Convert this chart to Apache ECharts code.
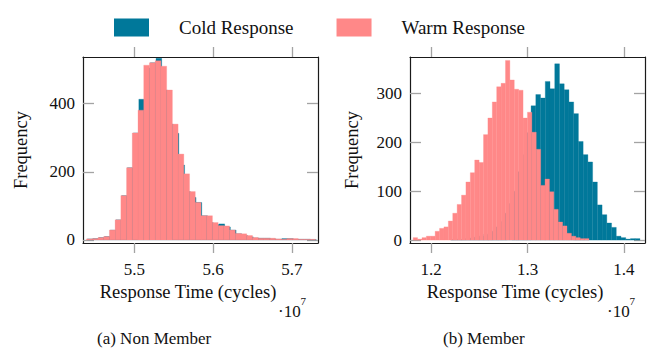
<!DOCTYPE html>
<html>
<head>
<meta charset="utf-8">
<script src="https://cdn.jsdelivr.net/npm/echarts@6/dist/echarts.min.js"></script>
<style>
  html, body { margin: 0; padding: 0; background: #fff; }
  #chart { width: 649px; height: 348px; }
</style>
</head>
<body>
<div id="chart"></div>
<script>
// histogram bins (x in units of 1e7 cycles)
const nonMemberBinStart = 5.4395;
const nonMemberBinWidth = 0.007255;
const nonMemberColdShift = 0.001;
const nonMemberWarm = [3, 4, 7, 10, 29, 59, 130, 212, 314, 381,
  513, 520, 526, 510, 440, 340, 252, 194, 142, 110,
  71, 71, 51, 42, 41, 29, 19, 18, 13, 7,
  5, 5, 5, 3, 2, 4, 4, 2, 2, 2];
const nonMemberCold = [3, 4, 7, 10, 29, 59, 130, 212, 314, 413,
  505, 520, 533, 440, 340, 313, 220, 142, 125, 110,
  71, 51, 45, 47, 38, 29, 18, 13, 9, 6,
  5, 5, 3, 2, 4, 4, 2, 2, 2, 1];

const memberWarmStart = 1.1813;
const memberWarmWidth = 0.00456;
const memberWarm = [5, 2, 5, 8, 8, 18, 24, 27, 39, 55,
  73, 92, 119, 138, 164, 159, 216, 250, 283, 314,
  321, 368, 328, 309, 307, 250, 262, 221, 186, 112,
  125, 99, 63, 37, 29, 14, 8, 5, 3, 3];
const memberColdStart = 1.2201;
const memberColdWidth = 0.004912;
const memberCold = [1, 2, 1, 3, 4, 6, 8, 12, 18, 27,
  38, 55, 75, 100, 140, 175, 220, 275, 298, 291,
  325, 310, 361, 320, 308, 283, 259, 202, 175, 160,
  119, 72, 52, 35, 26, 8, 5, 2, 3, 3];

// axis ranges and ticks
const nonMemberX = [5.435, 5.733];
const nonMemberY = [-9, 537];
const nonMemberXTicks = [5.5, 5.6, 5.7];
const nonMemberYTicks = [0, 200, 400];
const memberX = [1.178, 1.4218];
const memberY = [-6, 375];
const memberXTicks = [1.2, 1.3, 1.4];
const memberYTicks = [0, 100, 200, 300];

const BLUE = '#00789a';
const PINK = '#ff8888';
const FONT = 'Liberation Serif';

function bins(start, width, counts) {
  return counts.map((c, i) => [start + i * width, start + (i + 1) * width, c]);
}

function histSeries(name, data, idx, fill) {
  return {
    name: name,
    type: 'custom',
    xAxisIndex: idx,
    yAxisIndex: idx,
    clip: true,
    itemStyle: { color: fill },
    encode: { x: [0, 1], y: 2 },
    data: data,
    renderItem: function (params, api) {
      const a = api.coord([api.value(0), api.value(2)]);
      const b = api.coord([api.value(1), 0]);
      return {
        type: 'rect',
        shape: { x: a[0], y: a[1], width: b[0] - a[0], height: b[1] - a[1] },
        style: { fill: fill, stroke: fill, lineWidth: 0.3 }
      };
    }
  };
}

const tickStyle = { color: '#a3a3a3', width: 1.3 };
const frame = { show: true, onZero: false, lineStyle: { color: '#1a1a1a', width: 1.2 } };
const labelStyle = { fontFamily: FONT, fontSize: 17, color: '#111' };

function xAxes(grid, range, ticks) {
  return [{
    type: 'value', gridIndex: grid, min: range[0], max: range[1], position: 'bottom',
    axisLine: frame, splitLine: { show: false },
    axisTick: { show: true, inside: false, length: 10, customValues: ticks, lineStyle: tickStyle },
    axisLabel: Object.assign({ customValues: ticks, margin: 18, formatter: v => v.toFixed(1) }, labelStyle),
    name: 'Response Time (cycles)', nameLocation: 'middle', nameGap: 37,
    nameTextStyle: { fontFamily: FONT, fontSize: 18.5, color: '#111', padding: [0, 25, 0, 0] }
  }, {
    type: 'value', gridIndex: grid, min: range[0], max: range[1], position: 'top',
    axisLine: frame, splitLine: { show: false },
    axisTick: { show: true, inside: false, length: 10, customValues: ticks, lineStyle: tickStyle },
    axisLabel: { show: false }
  }];
}

function yAxes(grid, range, ticks, gap) {
  return [{
    type: 'value', gridIndex: grid, min: range[0], max: range[1], position: 'left',
    axisLine: frame, splitLine: { show: false },
    axisTick: { show: true, inside: true, length: 11, customValues: ticks, lineStyle: tickStyle },
    axisLabel: Object.assign({ customValues: ticks, margin: 8 }, labelStyle),
    name: 'Frequency', nameLocation: 'middle', nameGap: gap, nameRotate: 90,
    nameTextStyle: { fontFamily: FONT, fontSize: 18.5, color: '#111' }
  }, {
    type: 'value', gridIndex: grid, min: range[0], max: range[1], position: 'right',
    axisLine: frame, splitLine: { show: false },
    axisTick: { show: true, inside: true, length: 11, customValues: ticks, lineStyle: tickStyle },
    axisLabel: { show: false }
  }];
}

const chart = echarts.init(document.getElementById('chart'), null, { renderer: 'svg' });
chart.setOption({
  animation: false,
  backgroundColor: '#fff',
  legend: {
    left: 109, top: 13,
    icon: 'rect', itemWidth: 35, itemHeight: 18, itemGap: 43,
    textStyle: { fontFamily: FONT, fontSize: 19, color: '#111', padding: [0, 0, 0, 25] },
    data: [
      { name: 'Cold Response', itemStyle: { color: BLUE } },
      { name: 'Warm Response', itemStyle: { color: PINK } }
    ]
  },
  grid: [
    { left: 83, top: 57, width: 235, height: 186 },
    { left: 410, top: 57, width: 235, height: 186 }
  ],
  xAxis: [].concat(xAxes(0, nonMemberX, nonMemberXTicks), xAxes(1, memberX, memberXTicks)),
  yAxis: [].concat(yAxes(0, nonMemberY, nonMemberYTicks, 53), yAxes(1, memberY, memberYTicks, 49)),
  series: [
    histSeries('Cold Response', bins(nonMemberBinStart + nonMemberColdShift, nonMemberBinWidth, nonMemberCold), 0, BLUE),
    histSeries('Warm Response', bins(nonMemberBinStart, nonMemberBinWidth, nonMemberWarm), 0, PINK),
    histSeries('Cold Response', bins(memberColdStart, memberColdWidth, memberCold), 2, BLUE),
    histSeries('Warm Response', bins(memberWarmStart, memberWarmWidth, memberWarm), 2, PINK)
  ],
  graphic: [
    { type: 'text', style: { x: 278, y: 311, text: '·10', fill: '#111', font: '17px "Liberation Serif"', verticalAlign: 'middle' } },
    { type: 'text', style: { x: 300.5, y: 301, text: '7', fill: '#111', font: '11px "Liberation Serif"', verticalAlign: 'middle' } },
    { type: 'text', style: { x: 607, y: 311, text: '·10', fill: '#111', font: '17px "Liberation Serif"', verticalAlign: 'middle' } },
    { type: 'text', style: { x: 629.5, y: 301, text: '7', fill: '#111', font: '11px "Liberation Serif"', verticalAlign: 'middle' } },
    { type: 'text', style: { x: 97, y: 338, text: '(a) Non Member', fill: '#111', font: '17px "Liberation Serif"', verticalAlign: 'middle' } },
    { type: 'text', style: { x: 443, y: 338, text: '(b) Member', fill: '#111', font: '17px "Liberation Serif"', verticalAlign: 'middle' } }
  ]
});
</script>
</body>
</html>
